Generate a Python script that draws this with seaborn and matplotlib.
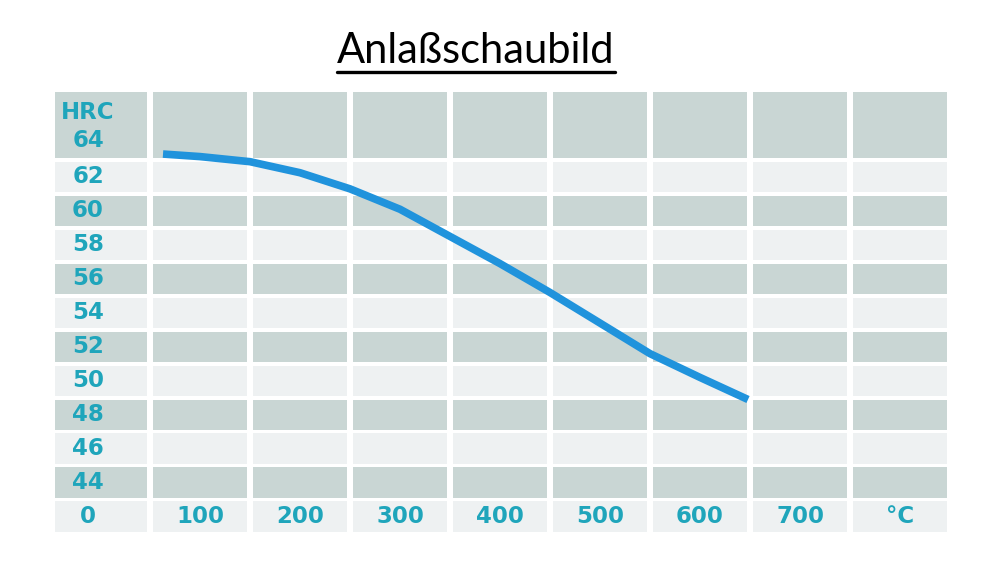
import matplotlib
matplotlib.use("Agg")
import matplotlib.pyplot as plt
from matplotlib.lines import Line2D
import seaborn as sns

# tempering chart: temperature (°C) vs hardness (HRC)
temps = [63, 100, 150, 200, 250, 300, 350, 400, 450, 500, 550, 600, 648]
hrc = [63.35, 63.2, 62.9, 62.25, 61.3, 60.1, 58.5, 56.9, 55.2, 53.4, 51.6, 50.2, 48.9]

x_ticks = [0, 100, 200, 300, 400, 500, 600, 700, 800]
x_labels = ["0", "100", "200", "300", "400", "500", "600", "700", "°C"]
y_ticks = [64, 62, 60, 58, 56, 54, 52, 50, 48, 46, 44]
y_unit = "HRC"
title = "Anlaßschaubild"

dark = "#c9d6d4"
light = "#eef1f2"
teal = "#1fa5bb"
blue = "#2093dc"

sns.set_style("white")
plt.rcParams["font.family"] = ["DejaVu Sans"]

fig = plt.figure(figsize=(10, 5.72), dpi=100)
ax = fig.add_axes([0.055, 0.0699, 0.895, 0.7692])

# row bands: bottom label row at 42, then 44..62, top band holds 64 and HRC
row_pos = [42] + sorted(y_ticks)[:-1]
col_left = [-45] + [t - 47 for t in x_ticks[1:]]
col_right = [47] + [t + 47 for t in x_ticks[1:]]
col_w = [r - l for l, r in zip(col_left, col_right)]

for i, r in enumerate(row_pos):
    c = light if i % 2 == 0 else dark
    ax.bar(col_left, 1.8, width=col_w, bottom=r - 0.9, align="edge", color=c, linewidth=0)
ax.bar(col_left, 3.9, width=col_w, bottom=63.1, align="edge", color=dark, linewidth=0)

sns.lineplot(x=temps, y=hrc, ax=ax, color=blue, linewidth=5.5,
             solid_capstyle="butt", solid_joinstyle="round")

lab_kw = dict(color=teal, fontsize=16.5, fontweight="bold", ha="center", va="center")
for t, lab in zip(x_ticks, x_labels):
    xx = -12 if t == 0 else t
    ax.text(xx, 42.0, lab, **lab_kw)
for v in y_ticks:
    ax.text(-12, v + (0.15 if v == 64 else 0), str(v), **lab_kw)
ax.text(-12, 65.8, y_unit, **lab_kw)

ax.set_xlim(-45, 850)
ax.set_ylim(41.1, 67.0)
ax.axis("off")

t = fig.text(0.476, 0.91, title, fontsize=30, color="black", ha="center", va="center",
             family=["Lato", "DejaVu Sans"])
fig.canvas.draw()
bb = t.get_window_extent().transformed(fig.transFigure.inverted())
fig.add_artist(Line2D([bb.x0, bb.x1], [bb.y0 - 0.002, bb.y0 - 0.002], color="black", linewidth=2.4,
                      transform=fig.transFigure))

fig.savefig("out.png", dpi=100, facecolor="white")
